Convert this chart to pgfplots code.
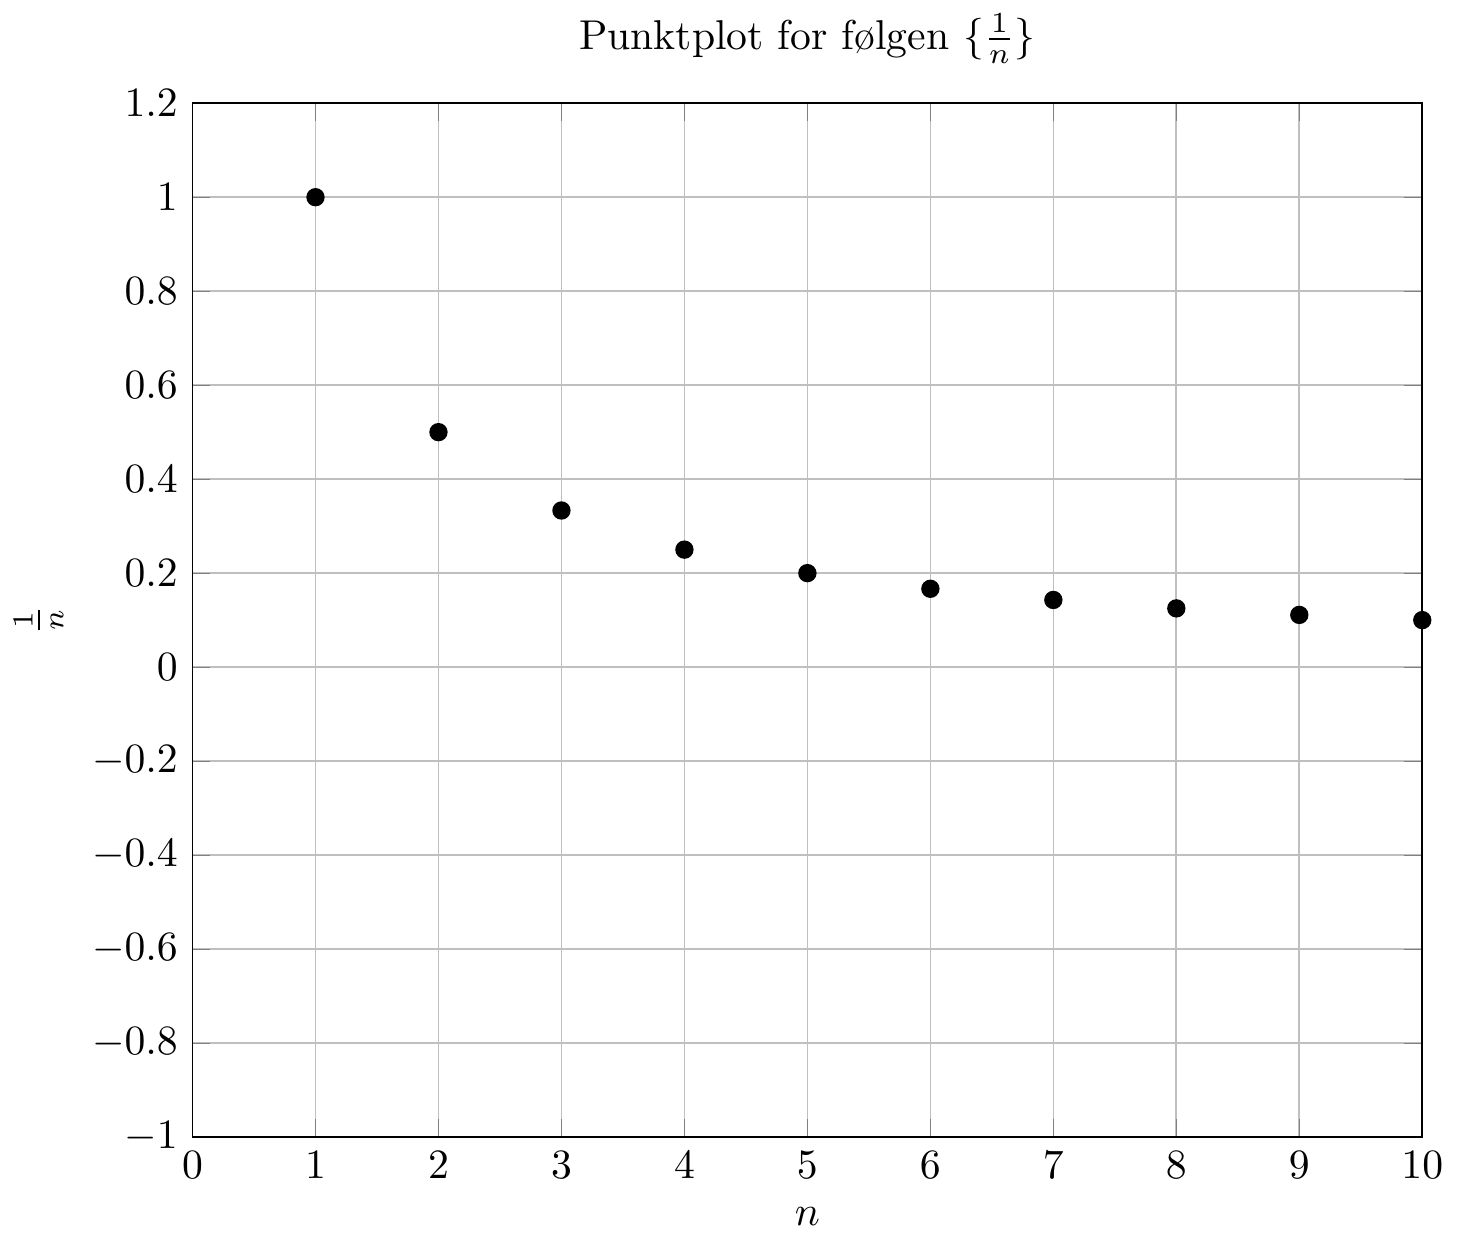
\documentclass[border=0pt]{standalone}
\usepackage{pgfplots}
\pgfplotsset{compat=1.18}
\begin{document}
\begin{tikzpicture}
\begin{axis}[
  scale only axis,
  width=295pt,
  height=248pt,
  xmin=0, xmax=10,
  ymin=-1, ymax=1.2,
  xtick={0,1,...,10},
  ytick={-1,-0.8,...,1.2},
  grid=major,
  title={Punktplot for følgen $\{\frac{1}{n}\}$},
  xlabel={$n$},
  ylabel={$\frac{1}{n}$},
]
\addplot[only marks, mark=*, black, mark size=2pt] coordinates {
  (1,1) (2,0.5) (3,0.3333) (4,0.25) (5,0.2) (6,0.1667)
  (7,0.1429) (8,0.125) (9,0.1111) (10,0.1)
};
\end{axis}
\end{tikzpicture}
\end{document}
